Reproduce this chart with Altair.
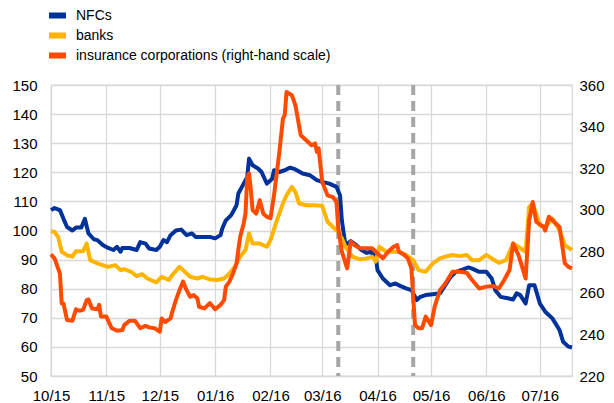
import altair as alt
import pandas as pd

# ---- data (day offsets from 1 Oct 2015) ----
nfc_day = [0,2,5,7,9,12,14,17,19,21,24,26,29,32,35,37,39,40,44,48,50,53,55,59,61,63,65,67,70,73,76,79,81,85,89,92,95,96,98,101,104,105,108,110,111,113,116,118,121,124,125,128,131,134,137,141,145,149,152,156,160,162,163,165,168,171,174,177,179,182,183,186,190,193,196,199,202,205,207,210,214,218,221,224,227,231,234,236,240,244,247,249,252,256,259,261,263,266,268,271,274,277,281,285,287,290,292]
nfc_val = [107,107.7,107,104,101.2,100,101,101,104,99,97,96.7,95,94,93.3,94.4,92.7,94,94,93.3,96,95.5,93.8,93.3,94.4,96.7,96,98.4,100,100.3,98.4,99,97.8,97.8,97.8,97.3,98.4,100.7,103.5,105.3,108.7,112.7,116.1,118.4,124.7,122.4,121.3,120.1,116.1,117.8,120.7,120.1,120.7,121.6,121,119.6,119,117.3,116.7,116.1,115,112,103.5,95,96.4,95,93.3,92.3,92.7,91,86.4,83.5,81.2,81.8,80.9,80.1,79.5,76.1,77.2,77.8,78.1,78.4,81.2,84.1,85.8,86.6,87.3,86.9,85.8,85.8,83.5,79.5,77.2,76.7,76.3,78.4,77.8,74.9,81.2,81.2,74.9,72.1,69.8,65.8,61.8,60.1,59.8]

banks_day = [0,2,4,6,9,12,14,18,20,22,26,29,32,36,39,41,45,48,51,54,59,62,66,68,72,75,78,82,85,89,93,97,100,103,106,109,111,113,117,121,123,126,130,132,135,137,139,143,147,152,155,158,161,163,165,169,173,177,180,182,184,188,192,195,199,203,206,210,214,218,221,225,229,233,236,240,244,247,251,255,259,262,266,268,270,274,277,281,285,288,292]
banks_val = [99.8,99.5,97.8,92.7,91.5,91,92.9,92.9,95.5,89.8,88.7,88.1,87.5,88.1,86.4,86.7,85.8,84.3,85,83.5,82.2,84.1,83,84.7,87.5,85.8,84.1,83.5,84.1,83.2,83,83.5,85.2,87.5,91,93.3,99,95.5,95.5,94.4,96.7,102.4,109.3,112.1,115,113.2,109.3,108.7,108.7,108.5,103,101.2,99.5,97.3,94.4,91,90.1,90.4,91,89.3,94.4,92.7,92.7,92.7,91.6,89.8,86.4,85.8,88.7,90.4,91,91.6,91.2,91.6,89.8,89.8,91.6,90.4,88.9,89.8,95.5,94.4,92.7,108.1,109.3,101.8,101.2,104.1,100,95,93.3]

ins_day = [0,2,5,6,7,9,12,14,16,18,20,21,23,26,27,28,31,34,37,40,41,44,47,50,53,55,58,61,62,64,67,68,70,72,74,76,78,80,82,83,86,89,92,95,97,98,100,102,104,106,108,109,110,111,112,113,115,117,119,121,123,125,128,130,131,132,135,137,140,143,146,148,149,150,152,155,158,160,161,163,166,168,170,173,177,180,183,186,189,192,194,195,198,200,202,204,206,208,210,213,215,218,221,225,229,233,236,240,244,248,251,254,257,259,262,264,266,268,270,272,276,277,279,282,285,288,290,292]
ins_val = [278.5,276.6,269.3,254.9,254.9,246.9,246.6,252.1,251.4,251.8,256.5,256.8,252.5,252.1,254.2,248.6,248.6,243,241.8,242.1,244.5,246.6,246.6,243,244.1,243.4,243,241.3,247.7,246,247.7,250.9,256.5,261.3,265.4,261.3,258.1,258.9,257.4,253.3,252.5,255.1,252.1,254.2,256.5,263,265.4,269.3,274.2,286.9,293.4,298.1,315.8,317.4,309.6,299.8,298.1,304.6,298.1,296.6,295.9,306.9,327.8,343.9,345.4,356.6,355.1,350.2,335.8,333.4,331,331.9,327.8,329.5,313.4,306.9,306.1,303.7,291,279.8,271.8,284.7,283,281.5,281.5,281.5,278.9,276.6,279.8,282.2,283,279.8,278.2,276.6,271.8,244.5,243,243,248.6,244.5,253.3,261.3,264.5,270.1,270.1,269.7,266.2,262.1,263,263.3,262.1,266.2,271,283.7,278.2,272.6,266.9,294.9,303.7,294.1,291.7,290,296.6,294.1,291.7,274.2,272.5,271.8]

series_names = ["NFCs", "banks", "insurance corporations (right-hand scale)"]
series_colors = ["#003299", "#ffb400", "#ff4b00"]
event_dates = ["2016-03-10", "2016-04-21"]
tick_months = ["2015-10-01", "2015-11-01", "2015-12-01", "2016-01-01", "2016-02-01",
               "2016-03-01", "2016-04-01", "2016-05-01", "2016-06-01", "2016-07-01"]
x_range = ["2015-10-01", "2016-07-19"]
left_ticks = list(range(50, 151, 10))
right_ticks = list(range(220, 361, 20))

start = pd.Timestamp("2015-10-01")


def to_dates(days):
    return [(start + pd.Timedelta(days=d)).strftime("%Y-%m-%d") for d in days]


def to_ms(dates):
    return [int(pd.Timestamp(d, tz="UTC").value // 10**6) for d in dates]


left_df = pd.concat([
    pd.DataFrame({"date": to_dates(nfc_day), "value": nfc_val, "series": series_names[0]}),
    pd.DataFrame({"date": to_dates(banks_day), "value": banks_val, "series": series_names[1]}),
])
right_df = pd.DataFrame({"date": to_dates(ins_day), "value": ins_val, "series": series_names[2]})
event_df = pd.DataFrame({"date": event_dates})

FONT = "Liberation Sans"
GRID = "#d9d9d9"

x_scale = alt.Scale(type="utc", domain=to_ms(x_range))
x_axis = alt.Axis(values=to_ms(tick_months),
                  labelExpr="utcFormat(datum.value, '%m/%y')",
                  labelAlign="center", grid=True, gridWidth=1.3,
                  ticks=False, domain=False, labelPadding=12, labelFontSize=15,
                  title=None, labelFlush=False, labelOverlap=False)

color = alt.Color("series:N",
                  scale=alt.Scale(domain=series_names, range=series_colors),
                  legend=alt.Legend(title=None, orient="none", legendX=-5, legendY=-78,
                                    direction="vertical", symbolType="stroke",
                                    symbolSize=289, symbolStrokeWidth=6,
                                    clipHeight=17,
                                    labelFontSize=14, labelFont=FONT, labelColor="#000",
                                    labelOffset=7, rowPadding=3, padding=0,
                                    labelLimit=400))

rules = alt.Chart(event_df).mark_rule(color="#a6a6a6", strokeWidth=4,
                                      strokeDash=[10, 6]).encode(
    x=alt.X("date:T", scale=x_scale, axis=x_axis)
)

left = alt.Chart(left_df).mark_line(strokeWidth=4, strokeJoin="round").encode(
    x=alt.X("date:T", scale=x_scale, axis=x_axis),
    y=alt.Y("value:Q", scale=alt.Scale(domain=[50, 150], nice=False, zero=False),
            axis=alt.Axis(values=left_ticks, grid=True, ticks=False, domain=False,
                          labelPadding=14, labelFontSize=15, title=None)),
    color=color,
)

right = alt.Chart(right_df).mark_line(strokeWidth=4, strokeJoin="round").encode(
    x=alt.X("date:T", scale=x_scale, axis=x_axis),
    y=alt.Y("value:Q", scale=alt.Scale(domain=[220, 360], nice=False, zero=False),
            axis=alt.Axis(orient="right", values=right_ticks, grid=False, ticks=False,
                          domain=False, labelPadding=7, labelFontSize=15, title=None)),
    color=color,
)

chart = alt.layer(rules, left, right).resolve_scale(y="independent").properties(
    width=521, height=291,
    padding={"left": 43, "top": 77, "right": 34, "bottom": 27},
    autosize=alt.AutoSizeParams(type="none"),
).configure_view(stroke=GRID, strokeWidth=1.3).configure_axis(
    gridColor=GRID, gridWidth=1.3, labelFont=FONT, labelColor="#000"
)

chart.save("out.html", embed_options={"renderer": "svg", "actions": False})
